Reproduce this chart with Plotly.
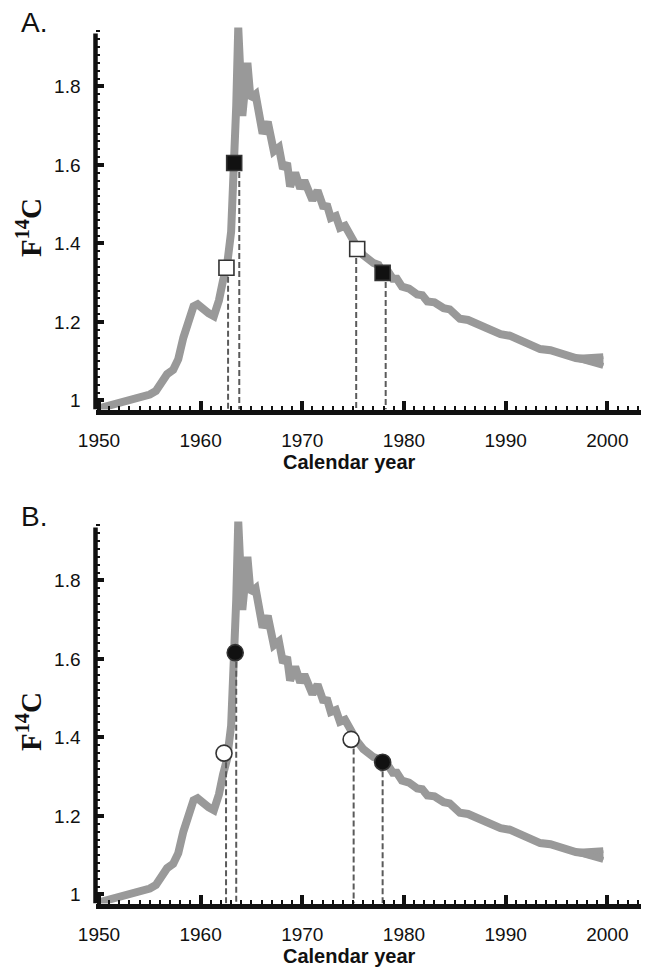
import plotly.graph_objects as go

# ---- data ----
years = [1950.0, 1951.0, 1952.0, 1953.0, 1954.0, 1955.0, 1955.6, 1956.2, 1956.7, 1957.3,
         1957.8, 1958.3, 1958.8, 1959.3, 1959.7, 1960.2, 1960.8, 1961.3, 1961.8, 1962.2,
         1962.6, 1963.0, 1963.3, 1963.5, 1963.7, 1964.1, 1964.6, 1964.9, 1965.4, 1965.7,
         1966.1, 1966.6, 1966.9, 1967.2, 1967.7, 1968.1, 1968.5, 1968.8, 1969.3, 1969.8,
         1970.2, 1970.6, 1971.0, 1971.5, 1972.1, 1972.4, 1972.8, 1973.3, 1973.7, 1974.2,
         1974.7, 1975.4, 1976.0, 1976.4, 1977.0, 1977.5, 1977.9, 1978.4, 1978.9, 1979.3,
         1979.8, 1980.5, 1981.3, 1981.8, 1982.3, 1983.0, 1983.9, 1984.5, 1985.5, 1986.3,
         1987.5, 1988.3, 1989.5, 1990.4, 1991.4, 1992.3, 1993.4, 1994.4, 1995.4, 1996.1,
         1996.9, 1997.8, 1998.6, 1999.6]
f14c = [0.980, 0.987, 0.993, 0.999, 1.006, 1.015, 1.024, 1.045, 1.067, 1.078,
        1.105, 1.160, 1.210, 1.240, 1.245, 1.232, 1.222, 1.215, 1.255, 1.305,
        1.345, 1.430, 1.600, 1.750, 1.950, 1.725, 1.860, 1.770, 1.780, 1.740,
        1.680, 1.710, 1.670, 1.635, 1.645, 1.590, 1.605, 1.545, 1.580, 1.540,
        1.560, 1.535, 1.510, 1.535, 1.490, 1.500, 1.465, 1.470, 1.440, 1.445,
        1.420, 1.390, 1.370, 1.360, 1.350, 1.345, 1.325, 1.330, 1.310, 1.310,
        1.290, 1.285, 1.270, 1.268, 1.252, 1.250, 1.235, 1.232, 1.208, 1.205,
        1.190, 1.183, 1.169, 1.165, 1.152, 1.145, 1.131, 1.128, 1.118, 1.115,
        1.108, 1.105, 1.100, 1.100]
# spread of the curve ensemble at its end
tail_years = [1996.9, 1999.6]
tail_hi = [1.108, 1.113]
tail_lo = [1.108, 1.088]

# panel A: squares
a_year = [1962.54, 1963.3, 1975.4, 1977.9]
a_f14c = [1.338, 1.605, 1.386, 1.325]
a_filled = [False, True, False, True]
a_drop_year = [1962.7, 1963.8, 1975.3, 1978.2]

# panel B: circles
b_year = [1962.3, 1963.4, 1974.8, 1977.9]
b_f14c = [1.360, 1.616, 1.395, 1.337]
b_filled = [False, True, False, True]
b_drop_year = [1962.5, 1963.5, 1975.05, 1977.9]

x_ticks = [1950, 1960, 1970, 1980, 1990, 2000]
y_tickvals = [1.0, 1.2, 1.4, 1.6, 1.8]
y_ticktext = ["1", "1.2", "1.4", "1.6", "1.8"]

YMIN, YAXTOP, YMAX = 0.977, 1.935, 1.955
XMIN, XMAX = 1949.66, 2004.0
CURVE = "#999999"

# page body has an 8px margin: figure is drawn 8px in from the top-left corner
OFF = 8
W, H = 649 - OFF, 971 - OFF


def px(p):
    return (p - OFF) / W


def py(p):
    return 1 - (p - OFF) / H


fig = go.Figure()


def add_panel(xa, ya, myears, mvals, filled, drops, symbol, msize):
    fig.add_trace(go.Scatter(x=years, y=f14c, mode="lines", xaxis=xa, yaxis=ya,
                             line=dict(color=CURVE, width=8), showlegend=False,
                             hoverinfo="skip"))
    fig.add_trace(go.Scatter(x=tail_years, y=tail_hi, mode="lines", xaxis=xa, yaxis=ya,
                             line=dict(color=CURVE, width=6), showlegend=False,
                             hoverinfo="skip"))
    fig.add_trace(go.Scatter(x=tail_years, y=tail_lo, mode="lines", xaxis=xa, yaxis=ya,
                             line=dict(color=CURVE, width=6), fill="tonexty",
                             fillcolor=CURVE, showlegend=False, hoverinfo="skip"))
    dx, dy = [], []
    for d, v in zip(drops, mvals):
        dx += [d, d, None]
        dy += [v, YMIN, None]
    fig.add_trace(go.Scatter(x=dx, y=dy, mode="lines", xaxis=xa, yaxis=ya,
                             line=dict(color="#5a5a5a", width=2, dash="6px,3px"),
                             showlegend=False, hoverinfo="skip"))
    fig.add_trace(go.Scatter(
        x=myears, y=mvals, mode="markers", xaxis=xa, yaxis=ya, showlegend=False,
        cliponaxis=False,
        marker=dict(symbol=symbol, size=msize,
                    color=["#111111" if f else "#ffffff" for f in filled],
                    line=dict(color="#333333", width=1.6))))


add_panel("x", "y", a_year, a_f14c, a_filled, a_drop_year, "square", 15)
add_panel("x2", "y2", b_year, b_f14c, b_filled, b_drop_year, "circle", 16)

xdom = [px(95.5), min(px(648), 1.0)]
ydomA = [py(409.5), py(25.6)]
ydomB = [py(903.5), py(519.6)]

tickfont = dict(family="Liberation Sans, Arial", size=19, color="#111111")


def xaxis_cfg(dom_anchor):
    return dict(domain=xdom, anchor=dom_anchor, range=[XMIN, XMAX], tickmode="array",
                tickvals=x_ticks, ticktext=[str(t) for t in x_ticks], automargin=False,
                showline=True, linecolor="#111111", linewidth=4.5,
                ticks="inside", ticklen=9, tickwidth=4, tickcolor="#111111",
                ticklabelstandoff=10,
                minor=dict(tick0=1950, dtick=1, ticks="inside", ticklen=4, tickwidth=2,
                           tickcolor="#111111", showgrid=False),
                showgrid=False, zeroline=False, tickfont=tickfont, fixedrange=True)


def yaxis_cfg(dom, anchor):
    return dict(domain=dom, anchor=anchor, range=[YMIN, YMAX], tickmode="array",
                tickvals=y_tickvals, ticktext=y_ticktext, showline=False, automargin=False,
                ticks="inside", ticklen=8, tickwidth=4, tickcolor="#111111",
                ticklabelstandoff=14,
                minor=dict(tick0=1.0, dtick=0.02, ticks="inside", ticklen=4, tickwidth=2,
                           tickcolor="#111111", showgrid=False),
                showgrid=False, zeroline=False, tickfont=tickfont, fixedrange=True)


fig.update_layout(
    template="none",
    width=W, height=H, margin=dict(l=0, r=0, t=0, b=0, pad=0, autoexpand=False),
    paper_bgcolor="white", plot_bgcolor="white",
    xaxis=xaxis_cfg("y"), yaxis=yaxis_cfg(ydomA, "x"),
    xaxis2=xaxis_cfg("y2"), yaxis2=yaxis_cfg(ydomB, "x2"),
    showlegend=False,
)

# y axis lines (stop a little below the top of the plotting range)
for yref in ["y", "y2"]:
    fig.add_shape(type="line", xref="paper", yref=yref, x0=xdom[0], x1=xdom[0],
                  y0=YMIN, y1=YAXTOP, line=dict(color="#111111", width=4.5))

ann_font = dict(family="Liberation Sans, Arial", size=20, color="#111111")
for ycen, ytitle in [(462, 228), (956, 722)]:
    fig.add_annotation(x=px(349), y=py(ycen), xref="paper", yref="paper",
                       text="<b>Calendar year</b>", showarrow=False, font=ann_font,
                       xanchor="center", yanchor="middle")
    fig.add_annotation(x=px(29), y=py(ytitle), xref="paper", yref="paper",
                       text="<b>F<sup>14</sup>C</b>", showarrow=False, textangle=-90,
                       font=dict(family="Liberation Serif, Times New Roman", size=29,
                                 color="#111111"),
                       xanchor="center", yanchor="middle")

for label, ycen in [("A.", 22), ("B.", 516)]:
    fig.add_annotation(x=px(19), y=py(ycen), xref="paper", yref="paper", text=label,
                       showarrow=False, xanchor="left", yanchor="middle",
                       font=dict(family="Liberation Sans, Arial", size=28, color="#111111"))

fig.write_html("out.html")
